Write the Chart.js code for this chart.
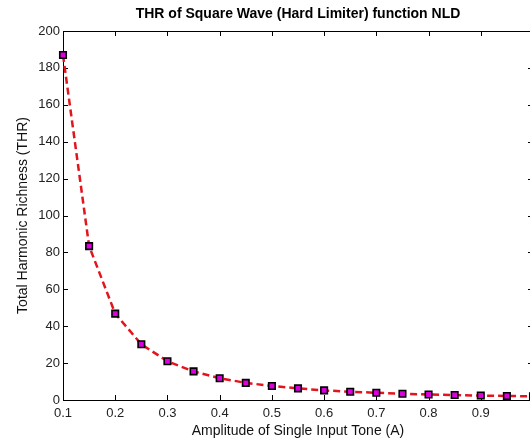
<!DOCTYPE html>
<html>
<head>
<meta charset="utf-8">
<script src="https://cdn.jsdelivr.net/npm/chart.js@4.4.1/dist/chart.umd.min.js"></script>
<style>
  html, body { margin: 0; padding: 0; background: #fff; overflow: hidden; }
  #nld { display: block; }
</style>
</head>
<body>
<canvas id="nld" width="540" height="442" style="width:540px;height:442px"></canvas>
<script>
// amplitude of the input tone and the THR measured at each one
var amplitudes = [0.1, 0.15, 0.2, 0.25, 0.3, 0.35, 0.4, 0.45, 0.5, 0.55, 0.6, 0.65, 0.7, 0.75, 0.8, 0.85, 0.9, 0.95, 1.0];
var thrValues = [187, 83.4, 46.8, 30.2, 21.0, 15.5, 11.8, 9.3, 7.6, 6.3, 5.2, 4.5, 3.9, 3.4, 3.0, 2.7, 2.4, 2.2, 2.0];

var xTickStep = 0.1;
var yTickStep = 20;

var fontFace = '"Liberation Sans", Arial, Helvetica, sans-serif';

// matlab style box with the tick marks pointing inwards on all 4 sides
var boxTicks = {
  id: 'boxTicks',
  beforeDatasetsDraw: function (chart) {
    var ctx = chart.ctx, a = chart.chartArea;
    var xs = chart.scales.x, ys = chart.scales.y;
    var len = 5;
    ctx.save();
    ctx.strokeStyle = '#000';
    ctx.lineWidth = 1;
    ctx.beginPath();
    xs.ticks.forEach(function (t) {
      var px = Math.round(xs.getPixelForValue(t.value)) + 0.5;
      ctx.moveTo(px, a.bottom); ctx.lineTo(px, a.bottom - len);
      ctx.moveTo(px, a.top); ctx.lineTo(px, a.top + len);
    });
    ys.ticks.forEach(function (t) {
      var py = Math.round(ys.getPixelForValue(t.value)) + 0.5;
      ctx.moveTo(a.left, py); ctx.lineTo(a.left + len, py);
      ctx.moveTo(a.right, py); ctx.lineTo(a.right - len, py);
    });
    ctx.stroke();
    ctx.strokeRect(Math.round(a.left) + 0.5, Math.round(a.top) + 0.5,
      Math.round(a.right - a.left), Math.round(a.bottom - a.top));
    ctx.restore();
  }
};

var points = amplitudes.map(function (a, i) { return { x: a, y: thrValues[i] }; });

new Chart(document.getElementById('nld'), {
  type: 'line',
  data: {
    datasets: [{
      label: 'THR',
      data: points,
      borderColor: '#e3141c',
      borderWidth: 2.5,
      borderDash: [7, 4],
      tension: 0,
      pointStyle: 'rect',
      pointRadius: 4.6,
      pointBackgroundColor: '#dd00dd',
      pointBorderColor: '#000',
      pointBorderWidth: 1.6,
      clip: false
    }]
  },
  options: {
    responsive: false,
    animation: false,
    events: [],
    layout: { padding: { left: 0, right: 7, top: 0, bottom: 0 } },
    plugins: {
      legend: { display: false },
      tooltip: { enabled: false },
      title: {
        display: true,
        fullSize: false,
        text: 'THR of Square Wave (Hard Limiter) function NLD',
        color: '#000',
        font: { family: fontFace, size: 14, weight: 'bold' },
        padding: { top: 6, bottom: 8.2 }
      }
    },
    scales: {
      x: {
        type: 'linear',
        min: 0.1,
        max: 1,
        afterFit: function (s) {
          s.height = 42;
          s.paddingLeft = 0;
          s.paddingRight = 0;
        },
        grid: { drawOnChartArea: false, drawTicks: false },
        border: { display: false },
        ticks: {
          stepSize: xTickStep,
          padding: 6,
          color: '#222',
          maxRotation: 0,
          font: { family: fontFace, size: 13 },
          callback: function (v) { return String(+v.toFixed(2)); }
        },
        title: {
          display: true,
          text: 'Amplitude of Single Input Tone (A)',
          color: '#111',
          font: { family: fontFace, size: 14 },
          padding: { top: 0, bottom: 2 }
        }
      },
      y: {
        min: 0,
        max: 200,
        afterFit: function (s) { s.width = 63; },
        grid: { drawOnChartArea: false, drawTicks: false },
        border: { display: false },
        ticks: {
          stepSize: yTickStep,
          padding: 3,
          color: '#222',
          font: { family: fontFace, size: 13 }
        },
        title: {
          display: true,
          text: 'Total Harmonic Richness (THR)',
          color: '#111',
          font: { family: fontFace, size: 14 },
          padding: { top: 15, bottom: 0 }
        }
      }
    }
  },
  plugins: [boxTicks]
});
</script>
</body>
</html>
